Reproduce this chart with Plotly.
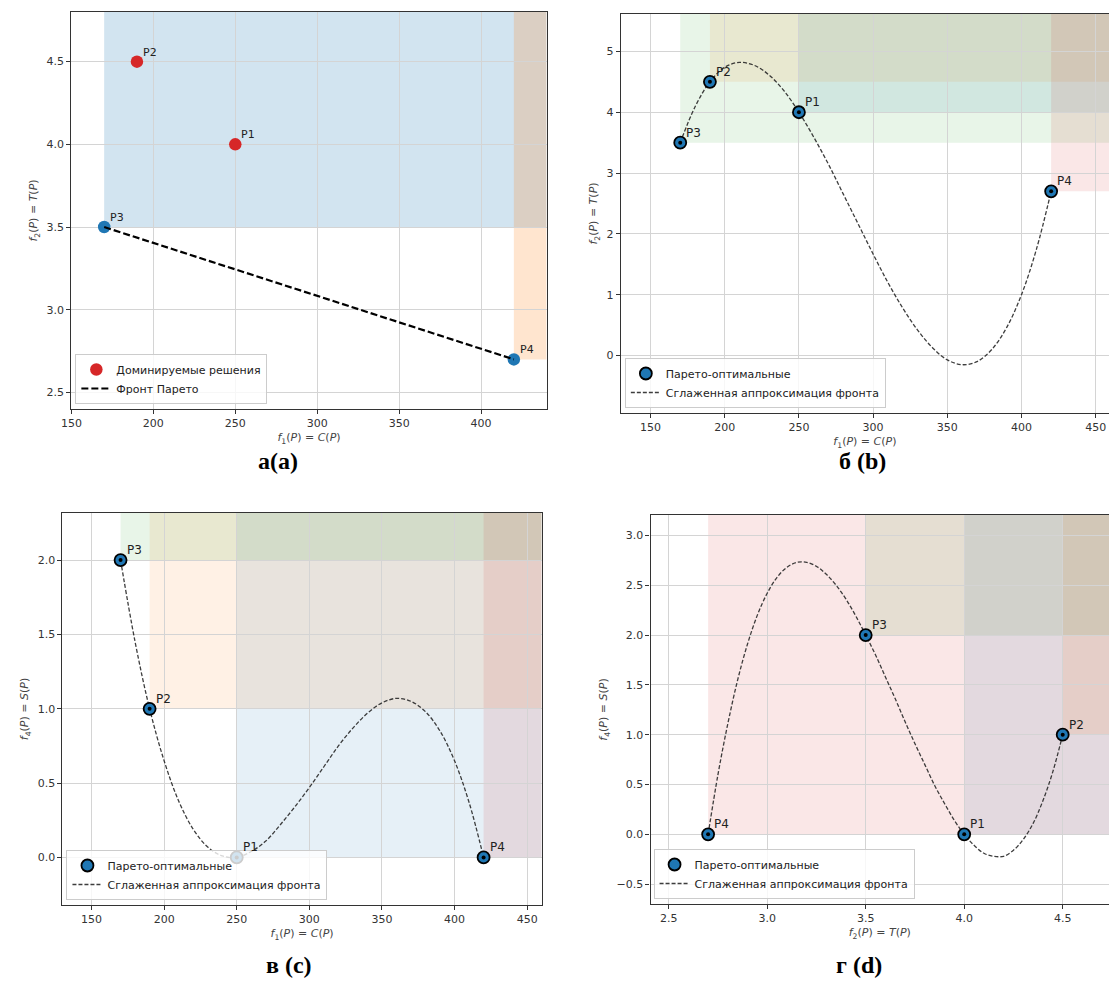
import plotly.graph_objects as go

# ---------------- data ----------------
names = ["P1", "P2", "P3", "P4"]
cost = [250, 190, 170, 420]        # f1(P) = C(P)
time_ = [4.0, 4.5, 3.5, 2.7]       # f2(P) = T(P)
score = [0.0, 1.0, 2.0, 0.0]       # f4(P) = S(P)

dominated_a = ["P1", "P2"]
pareto_a = ["P3", "P4"]

# smoothed front approximations
curve_b_x = [170, 180, 190, 200, 210, 220, 230, 240, 250, 260, 270, 280, 290,
             300, 310, 320, 330, 340, 350, 360, 370, 380, 390, 400, 410, 420]
curve_b_y = [3.50, 4.09, 4.50, 4.74, 4.82, 4.77, 4.61, 4.35, 4.00, 3.59, 3.14,
             2.65, 2.16, 1.67, 1.20, 0.78, 0.42, 0.13, -0.07, -0.15, -0.10,
             0.10, 0.46, 1.00, 1.74, 2.70]
curve_c_x = [170, 180, 190, 200, 210, 220, 230, 240, 250, 260, 270, 280, 290,
             300, 310, 320, 330, 340, 350, 360, 370, 380, 390, 400, 410, 420]
curve_c_y = [2.00, 1.45, 1.00, 0.65, 0.38, 0.19, 0.07, 0.01, 0.00, 0.04, 0.11,
             0.22, 0.34, 0.47, 0.61, 0.75, 0.87, 0.97, 1.04, 1.07, 1.05, 0.98,
             0.85, 0.65, 0.37, 0.00]
curve_d_x = [2.70, 2.75, 2.80, 2.85, 2.90, 2.95, 3.00, 3.05, 3.10, 3.15, 3.20,
             3.25, 3.30, 3.35, 3.40, 3.45, 3.50, 3.55, 3.60, 3.65, 3.70, 3.75,
             3.80, 3.85, 3.90, 3.95, 4.00, 4.05, 4.10, 4.15, 4.20, 4.25, 4.30,
             4.35, 4.40, 4.45, 4.50]
curve_d_y = [0.00, 0.60, 1.11, 1.55, 1.91, 2.20, 2.42, 2.58, 2.68, 2.73, 2.73,
             2.69, 2.61, 2.50, 2.36, 2.19, 2.00, 1.80, 1.58, 1.36, 1.13, 0.91,
             0.70, 0.49, 0.31, 0.14, 0.00, -0.11, -0.19, -0.22, -0.22, -0.16,
             -0.05, 0.11, 0.34, 0.63, 1.00]

# ---------------- style ----------------
TAB = ["31,119,180", "255,127,14", "44,160,44", "214,39,40"]
W, H = 1109, 989

def px_x(p):
    return p / W

def px_y(p):
    return 1 - p / H

panels = {
    "a": dict(ax="", dom_x=(61, 541), dom_y=(12, 409), xr=[150, 440], yr=[2.4, 4.8],
              xt=(150, 50), yt=(2.5, 0.5), xfmt=None, yfmt=".1f", ymirror=True),
    "b": dict(ax="2", dom_x=(616, 1109), dom_y=(14, 413), xr=[130, 459], yr=[-0.944, 5.615],
              xt=(150, 50), yt=(0, 1), xfmt=None, yfmt=None, ymirror=False),
    "c": dict(ax="3", dom_x=(52, 536), dom_y=(513, 905), xr=[130, 460], yr=[-0.32, 2.317],
              xt=(150, 50), yt=(0, 0.5), xfmt=None, yfmt=".1f", ymirror=True),
    "d": dict(ax="4", dom_x=(646, 1109), dom_y=(515, 904), xr=[2.408, 4.735], yr=[-0.699, 3.205],
              xt=(2.5, 0.5), yt=(-0.5, 0.5), xfmt=".1f", yfmt=".1f", ymirror=False),
}

lbl_f1 = "<i>f</i><sub>1</sub>(<i>P</i>) = <i>C</i>(<i>P</i>)"
lbl_f2 = "<i>f</i><sub>2</sub>(<i>P</i>) = <i>T</i>(<i>P</i>)"
lbl_f4 = "<i>f</i><sub>4</sub>(<i>P</i>) = <i>S</i>(<i>P</i>)"
titles_xy = {"a": (lbl_f1, lbl_f2), "b": (lbl_f1, lbl_f2), "c": (lbl_f1, lbl_f4), "d": (lbl_f2, lbl_f4)}

fig = go.Figure()
layout = dict(width=W, height=H, margin=dict(l=0, r=0, t=0, b=0),
              plot_bgcolor="white", paper_bgcolor="white",
              font=dict(family="DejaVu Sans", size=11, color="#333"),
              showlegend=True)

axis_common = dict(showline=True, linecolor="#333", linewidth=1.2, ticks="outside",
                   ticklen=4, tickcolor="#333", showgrid=True, gridcolor="#d4d4d4",
                   gridwidth=1, zeroline=False, tickfont=dict(size=11, color="#333"))

for key, p in panels.items():
    ax = p["ax"]
    xt, yt = titles_xy[key]
    xa = dict(axis_common, domain=[px_x(p["dom_x"][0]), px_x(p["dom_x"][1])],
              range=p["xr"], tick0=p["xt"][0], dtick=p["xt"][1], mirror=True,
              anchor="y" + ax, title=dict(text=xt, font=dict(size=11, color="#444"), standoff=4))
    ya = dict(axis_common, domain=[px_y(p["dom_y"][1]), px_y(p["dom_y"][0])],
              range=p["yr"], tick0=p["yt"][0], dtick=p["yt"][1], mirror=p["ymirror"],
              anchor="x" + ax, title=dict(text=yt, font=dict(size=11, color="#444"), standoff=6))
    if p["xfmt"]:
        xa["tickformat"] = p["xfmt"]
    if p["yfmt"]:
        ya["tickformat"] = p["yfmt"]
    layout["xaxis" + ax] = xa
    layout["yaxis" + ax] = ya

shapes = []
annotations = []

def shade(ax, x0, y0, xr, yr, rgb, alpha):
    shapes.append(dict(type="rect", xref="x" + ax, yref="y" + ax, x0=x0, y0=y0,
                       x1=xr[1], y1=yr[1], fillcolor=f"rgba({rgb},{alpha})",
                       line=dict(width=0), layer="below"))

def label(ax, x, y, text, size):
    annotations.append(dict(x=x, y=y, xref="x" + ax, yref="y" + ax, text=text,
                            showarrow=False, xanchor="left", yanchor="bottom",
                            xshift=4, yshift=1, font=dict(size=size, color="#222")))

# ---------- panel a ----------
pa = panels["a"]
idx = {n: i for i, n in enumerate(names)}
for k, n in enumerate(pareto_a):
    i = idx[n]
    shade("", cost[i], time_[i], pa["xr"], pa["yr"], TAB[k], 0.2)

dx = [cost[idx[n]] for n in dominated_a]
dy = [time_[idx[n]] for n in dominated_a]
px_ = [cost[idx[n]] for n in pareto_a]
py_ = [time_[idx[n]] for n in pareto_a]

fig.add_trace(go.Scatter(x=dx, y=dy, mode="markers", name="Доминируемые решения",
                         marker=dict(color="#d62728", size=12.5), xaxis="x", yaxis="y",
                         legend="legend", legendrank=1))
fig.add_trace(go.Scatter(x=px_, y=py_, mode="markers", showlegend=False,
                         marker=dict(color="#1f77b4", size=12.5), xaxis="x", yaxis="y"))
fig.add_trace(go.Scatter(x=px_, y=py_, mode="lines", name="Фронт Парето",
                         line=dict(color="black", width=2.2, dash="7px,3px"),
                         xaxis="x", yaxis="y", legend="legend", legendrank=2))
for n in names:
    i = idx[n]
    label("", cost[i], time_[i], n, 11)

# ---------- panels b, c, d ----------
spec = {
    "b": (cost, time_, curve_b_x, curve_b_y, "legend2"),
    "c": (cost, score, curve_c_x, curve_c_y, "legend3"),
    "d": (time_, score, curve_d_x, curve_d_y, "legend4"),
}
for key, (xs, ys, cx, cy, leg) in spec.items():
    p = panels[key]
    ax = p["ax"]
    for i in range(len(names)):
        shade(ax, xs[i], ys[i], p["xr"], p["yr"], TAB[i], 0.11)
    fig.add_trace(go.Scatter(x=cx, y=cy, mode="lines", line_shape="spline",
                             name="Сглаженная аппроксимация фронта",
                             line=dict(color="rgba(40,40,40,0.9)", width=1.3, dash="4px,2px"),
                             xaxis="x" + ax, yaxis="y" + ax, legend=leg, legendrank=2))
    fig.add_trace(go.Scatter(x=xs, y=ys, mode="markers", name="Парето-оптимальные",
                             marker=dict(color="#1f77b4", size=12,
                                         line=dict(color="black", width=1.8)),
                             xaxis="x" + ax, yaxis="y" + ax, legend=leg, legendrank=1))
    fig.add_trace(go.Scatter(x=xs, y=ys, mode="markers", showlegend=False,
                             marker=dict(color="black", size=4),
                             xaxis="x" + ax, yaxis="y" + ax))
    for i, n in enumerate(names):
        label(ax, xs[i], ys[i], n, 12)

leg_common = dict(xanchor="left", yanchor="bottom", bgcolor="rgba(255,255,255,0.8)",
                  bordercolor="#cccccc", borderwidth=1, font=dict(size=11, color="#222"),
                  tracegroupgap=0, itemwidth=30)
layout["legend"] = dict(leg_common, x=px_x(65), y=px_y(404))
layout["legend2"] = dict(leg_common, x=px_x(620), y=px_y(408))
layout["legend3"] = dict(leg_common, x=px_x(56), y=px_y(900))
layout["legend4"] = dict(leg_common, x=px_x(649), y=px_y(899))

# panel captions
captions = [("а(a)", 270, 461), ("б (b)", 860, 461), ("в (c)", 281, 965), ("г (d)", 856, 965)]
for text, cx_, cy_ in captions:
    annotations.append(dict(x=px_x(cx_), y=px_y(cy_), xref="paper", yref="paper",
                            text="<b>" + text + "</b>", showarrow=False,
                            xanchor="center", yanchor="middle",
                            font=dict(family="Liberation Serif", size=24, color="black")))

layout["shapes"] = shapes
layout["annotations"] = annotations
fig.update_layout(**layout)
fig.write_html("out.html", config={"displayModeBar": False},
               post_script="document.body.style.margin='0';document.body.style.overflow='hidden';")
